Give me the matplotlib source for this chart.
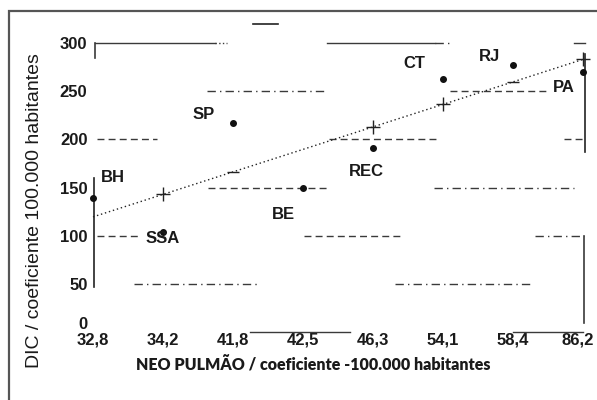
import numpy as np
import matplotlib.pyplot as plt
import matplotlib.transforms as mtransforms
from matplotlib.patches import Rectangle

# dados
neo_pulmao = ['32,8', '34,2', '41,8', '42,5', '46,3', '54,1', '58,4', '86,2']
cidades = ['BH', 'SSA', 'SP', 'BE', 'REC', 'CT', 'RJ', 'PA']
dic = [139, 104, 217, 149, 191, 263, 277, 270]
y_ticks = [0, 50, 100, 150, 200, 250, 300]

# deslocamento dos rotulos (pixels)
offsets = {'BH': (20, 21), 'SSA': (0, -7), 'SP': (-29, 8), 'BE': (-20, -26),
           'REC': (-7, -23), 'CT': (-29, 15), 'RJ': (-24, 9), 'PA': (-19, -16)}

# grade "quebrada" do original (inicio, fim em posicao de categoria)
dash = (0, (5, 3))
dashdot = (0, (6, 3, 1, 3))
grade = {
    300: [(0.03, 1.74, '-'), (1.74, 1.91, ':'), (3.34, 4.89, '-'), (4.89, 5.1, dashdot),
          (6.87, 7.03, '-')],
    250: [(1.63, 3.31, dashdot), (5.1, 6.51, dash)],
    200: [(0.06, 0.91, dash), (3.37, 4.91, dash), (6.73, 7.03, dash)],
    150: [(1.64, 3.39, dash), (4.87, 6.87, dashdot)],
    100: [(0.06, 0.67, dash), (3.01, 4.41, dash), (6.31, 7.01, dashdot)],
    50: [(0.59, 2.36, dashdot), (4.31, 6.27, dashdot)],
    0: [(2.24, 3.67, '-'), (6.0, 7.0, '-')],
}

fig = plt.figure(figsize=(5.97, 4.0), dpi=100)
ax = fig.add_axes([93 / 597, 68 / 400, 490 / 597, 289 / 400])
x = np.arange(len(neo_pulmao))

cor = '#3a3a3a'
for yv, segs in grade.items():
    for x0, x1, ls in segs:
        ax.plot([x0, x1], [yv, yv], color=cor, lw=1.0, ls=ls, clip_on=False)

# tracos verticais
ax.plot([0.03, 0.03], [300, 284], color=cor, lw=1.2, clip_on=False)
ax.plot([0.01, 0.01], [160, 47], color='#222222', lw=1.2, clip_on=False)
ax.plot([7.03, 7.03], [289, 187], color='#222222', lw=1.2, clip_on=False)
ax.plot([7.01, 7.01], [100, 9], color=cor, lw=1.2, clip_on=False)
ax.plot([2.29, 2.64], [319.5, 319.5], color='#222222', lw=1.2, clip_on=False)

# reta de regressao
a, b = np.polyfit(x, dic, 1)
ajuste = a * x + b
ax.plot(x, ajuste, color='#222222', lw=1.0, ls=(0, (1, 2)), clip_on=False)
for i in [1, 4, 5, 7]:
    ax.plot(x[i], ajuste[i], marker='+', ms=10, mew=1.0, color='#222222', clip_on=False)
for i in [2, 6]:
    ax.plot(x[i], ajuste[i], marker='_', ms=9, mew=1.0, color='#222222', clip_on=False)

# pontos
ax.plot(x, dic, 'o', color='#111111', ms=4, clip_on=False, ls='none')
for xi, yi, nome in zip(x, dic, cidades):
    ax.annotate(nome, (xi, yi), xytext=offsets[nome], textcoords='offset pixels',
                ha='center', va='center', fontsize=12, fontweight='bold',
                family='Liberation Sans', color='#1a1a1a')

ax.set_xlim(0, 7)
ax.set_ylim(0, 300)
ax.set_xticks(x)
ax.set_xticklabels(neo_pulmao)
ax.set_yticks(y_ticks)
ax.tick_params(length=0)
ax.tick_params(axis='y', pad=4)
ax.tick_params(axis='x', pad=0.5)
for lab in ax.get_xticklabels() + ax.get_yticklabels():
    lab.set_fontfamily('Liberation Sans')
    lab.set_fontweight('bold')
    lab.set_fontsize(12)
    lab.set_color('#1a1a1a')
# o "0" fica logo acima do primeiro rotulo do eixo x
ax.get_yticklabels()[0].set_verticalalignment('bottom')
# ultimo rotulo um pouco para dentro da figura
ultimo = ax.get_xticklabels()[-1]
ultimo.set_transform(ultimo.get_transform() +
                     mtransforms.ScaledTranslation(-5 / 100, 0, fig.dpi_scale_trans))
for s in ax.spines.values():
    s.set_visible(False)
ax.patch.set_alpha(0)

fig.text(35 / 597, 1 - 211 / 400, 'DIC / coeficiente 100.000 habitantes', rotation=90,
         ha='center', va='center', fontsize=14, family='Liberation Sans', color='#1a1a1a')
fig.text(313 / 597, 1 - 365 / 400, 'NEO PULMÃO / coeficiente -100.000 habitantes',
         ha='center', va='center', fontsize=11.5, family='Lato', fontweight='heavy',
         color='#1a1a1a')

# moldura
fig.patches.append(Rectangle((9 / 597, -0.1), 1.2, 1.1 - 11 / 400, transform=fig.transFigure,
                             fill=False, ec='#555555', lw=1.6))

fig.savefig('out.png', dpi=100)
